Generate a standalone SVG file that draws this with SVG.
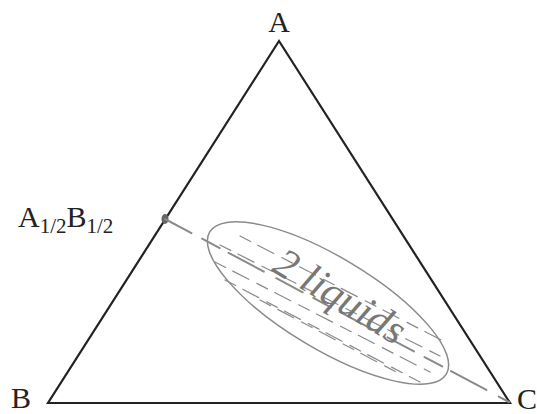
<svg xmlns="http://www.w3.org/2000/svg" width="537" height="414" viewBox="0 0 537 414">
<style>
.lbl{font-family:"Liberation Serif","Times New Roman",serif;fill:#222}
.edge{stroke:#222;stroke-width:2.2;fill:none;stroke-linejoin:miter}
.pencil{stroke:#8a8a8a;fill:none;stroke-linecap:round}
</style>
<rect width="537" height="414" fill="#fff"/>
<g id="triangle">
<polygon class="edge" points="279,41 48,403 510,403"/>
</g>
<g id="label-A"><text class="lbl" x="279" y="32" font-size="30" text-anchor="middle">A</text></g>
<g id="label-B"><text class="lbl" x="11" y="408" font-size="30">B</text></g>
<g id="label-C"><text class="lbl" x="517" y="409" font-size="30">C</text></g>
<g id="label-AB"><text class="lbl" x="18" y="227" font-size="30">A<tspan font-size="21" dy="6">1/2</tspan><tspan dy="-6">B</tspan><tspan font-size="21" dy="6">1/2</tspan></text></g>
<g id="point-AB"><ellipse cx="165" cy="219" rx="3.5" ry="5" fill="#666"/></g>
<g id="connectors">
<line class="pencil" x1="165" y1="219" x2="509" y2="402" stroke-width="2" stroke-dasharray="30 12 20 10 40 14"/>
</g>
<g id="two-liquids">
<ellipse class="pencil" cx="328" cy="303" rx="138" ry="46" transform="rotate(31 328 303)" stroke-width="1.5"/>
<g class="pencil" stroke-width="1.2" stroke-dasharray="12 8 18 9">
<line x1="220" y1="245" x2="440" y2="356"/>
<line x1="215" y1="262" x2="430" y2="372"/>
<line x1="225" y1="280" x2="420" y2="382"/>
<line x1="240" y1="236" x2="445" y2="342"/>
<line x1="260" y1="300" x2="400" y2="374"/>
</g>
<text x="333" y="308" font-family="Liberation Serif,serif" font-style="italic" font-size="42" fill="#777" text-anchor="middle" transform="rotate(31 333 308)">2 liquids</text>
</g>
</svg>
